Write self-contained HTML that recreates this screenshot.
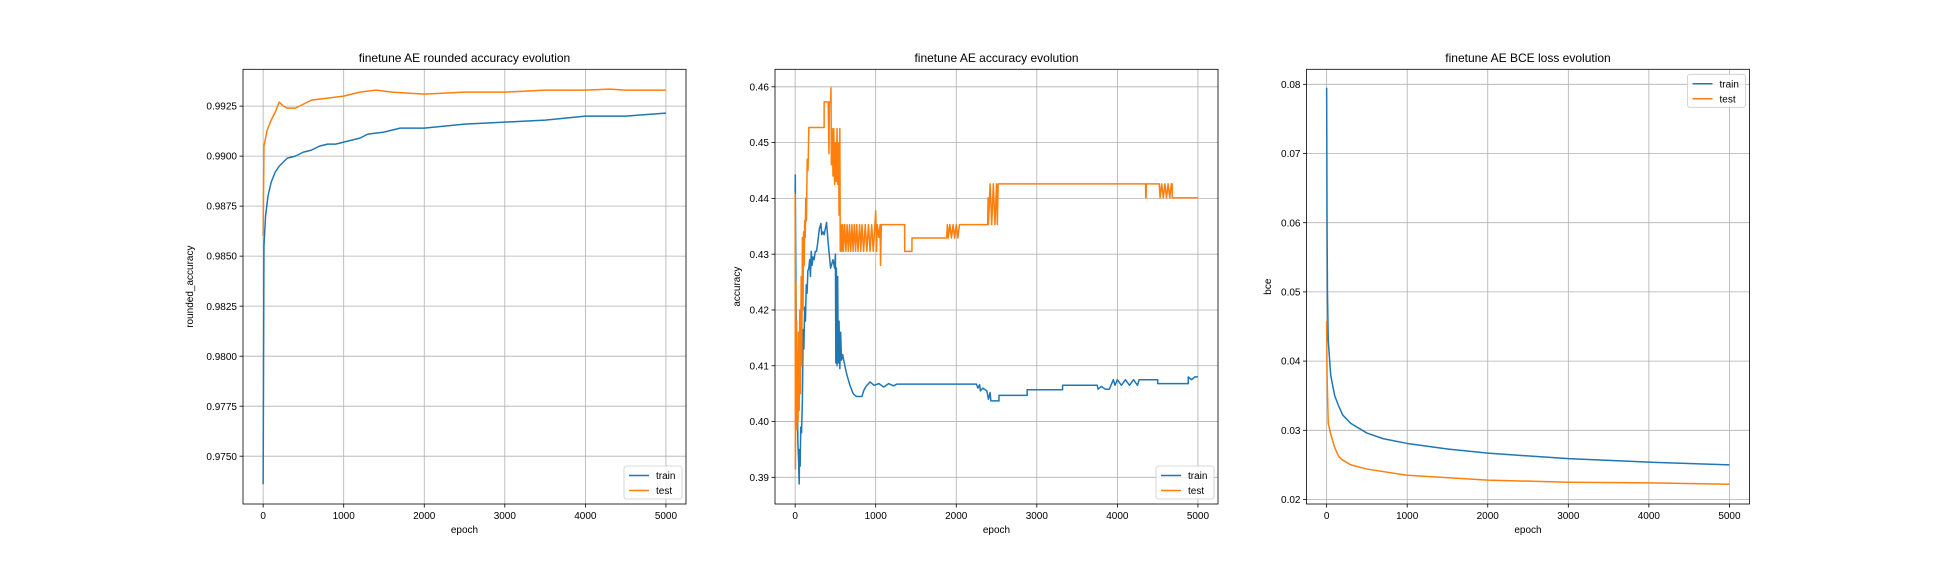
<!DOCTYPE html>
<html><head><meta charset="utf-8"><style>
html,body{margin:0;padding:0;background:#fff;}
svg{display:block;font-family:"Liberation Sans","DejaVu Sans",sans-serif;}
</style></head><body>
<svg id="fig" width="1944" height="576" viewBox="0 0 1944 576" xmlns="http://www.w3.org/2000/svg"></svg>
<script>
const xTicks = [0,1000,2000,3000,4000,5000];
// chart 1
const c1TrainE = [0,10,30,60,100,150,200,300,400,500,600,700,800,900,1000,1200,1300,1500,1700,2000,2500,3000,3500,4000,4500,5000];
const c1TrainV = [0.9736,0.9855,0.9870,0.9880,0.9887,0.9892,0.9895,0.9899,0.9900,0.9902,0.9903,0.9905,0.9906,0.9906,0.9907,0.9909,0.9911,0.9912,0.9914,0.9914,0.9916,0.9917,0.9918,0.9920,0.9920,0.99215];
const c1TestE = [0,10,50,100,150,200,250,300,400,500,600,800,1000,1100,1200,1400,1600,2000,2500,3000,3500,4000,4300,4500,5000];
const c1TestV = [0.9860,0.9905,0.9913,0.9918,0.9922,0.9927,0.9925,0.9924,0.9924,0.9926,0.9928,0.9929,0.9930,0.9931,0.9932,0.9933,0.9932,0.9931,0.9932,0.9932,0.9933,0.9933,0.99335,0.9933,0.9933];
const c1YTicks = [0.9750,0.9775,0.9800,0.9825,0.9850,0.9875,0.9900,0.9925];
// chart 2 (epoch, value) pairs
const c2Train = [[0,.4412],[2,.4442],[6,.432],[12,.420],[18,.4135],[24,.412],[34,.396],[42,.3935],[50,.3888],[56,.395],[62,.392],[70,.399],[80,.398],[90,.404],[100,.4165],[108,.413],[118,.4205],[128,.418],[138,.4245],[148,.423],[158,.427],[170,.4275],[180,.429],[190,.426],[200,.4305],[210,.428],[222,.4295],[235,.429],[250,.4305],[265,.4305],[280,.432],[300,.4345],[320,.4355],[330,.4335],[345,.434],[360,.4335],[390,.4357],[410,.432],[440,.4275],[470,.429],[490,.4275],[500,.430],[505,.4105],[512,.4275],[520,.410],[528,.426],[535,.4105],[545,.418],[555,.4095],[565,.416],[575,.411],[590,.412],[610,.4105],[640,.4085],[680,.4065],[720,.405],[760,.4045],[830,.4045],[850,.4055],[880,.4063],[930,.4071],[980,.4065],[1040,.4068],[1100,.4062],[1160,.4068],[1220,.4064],[1260,.4067],[2250,.4067],[2270,.406],[2290,.4066],[2300,.4055],[2330,.406],[2380,.4055],[2400,.404],[2420,.4052],[2430,.4037],[2530,.4037],[2530,.4047],[2880,.4047],[2880,.4057],[3320,.4057],[3320,.4065],[3750,.4065],[3760,.4058],[3800,.4063],[3850,.4058],[3900,.4058],[3950,.4075],[3970,.4065],[4000,.4075],[4050,.4065],[4100,.4075],[4150,.4065],[4200,.4075],[4250,.4065],[4270,.4075],[4500,.4075],[4500,.4068],[4880,.4068],[4880,.408],[4920,.4075],[4960,.408],[5000,.408]];
const c2Test = [[0,.4408],[4,.3915],[8,.425],[12,.400],[18,.418],[24,.3985],[30,.412],[36,.400],[42,.416],[50,.402],[58,.420],[66,.405],[75,.426],[82,.410],[90,.433],[98,.420],[105,.434],[112,.428],[118,.436],[125,.433],[132,.440],[140,.436],[150,.447],[160,.445],[170,.4527],[360,.4527],[360,.4573],[410,.4573],[420,.448],[425,.4573],[440,.4573],[445,.4598],[450,.446],[460,.4525],[470,.444],[480,.4525],[490,.4425],[500,.450],[510,.443],[520,.4525],[530,.4425],[540,.450],[545,.437],[555,.4525],[560,.4305],[570,.4353],[580,.4305],[590,.4353],[600,.4305],[615,.4353],[630,.4305],[645,.4353],[660,.4305],[675,.4353],[690,.4305],[705,.4353],[720,.4305],[735,.4353],[750,.4305],[765,.4353],[780,.4305],[800,.4353],[815,.4305],[830,.4353],[850,.4305],[870,.4353],[890,.4305],[910,.4353],[930,.4305],[950,.4353],[970,.4305],[990,.4353],[1000,.4378],[1010,.4305],[1020,.4353],[1040,.433],[1055,.4353],[1060,.428],[1070,.4353],[1360,.4353],[1360,.4305],[1450,.4305],[1450,.4329],[1880,.4329],[1890,.4353],[1900,.4329],[1920,.4353],[1940,.4329],[1960,.4353],[1980,.4329],[2000,.4353],[2020,.4329],[2040,.4353],[2390,.4353],[2395,.4401],[2400,.4353],[2420,.4426],[2440,.4353],[2460,.4426],[2480,.4353],[2500,.4426],[2510,.4353],[2520,.4426],[2530,.4426],[4350,.4426],[4352,.4401],[4356,.4401],[4360,.4426],[4520,.4426],[4530,.4401],[4550,.4426],[4570,.4401],[4590,.4426],[4610,.4401],[4630,.4426],[4650,.4401],[4670,.4426],[4680,.4426],[4680,.4401],[5000,.4401]];
const c2YTicks = [0.39,0.40,0.41,0.42,0.43,0.44,0.45,0.46];
// chart 3
const c3TrainE = [0,5,10,20,50,100,150,200,300,500,700,1000,1500,2000,3000,4000,5000];
const c3TrainV = [0.0795,0.060,0.050,0.043,0.038,0.035,0.0335,0.0322,0.031,0.0296,0.0288,0.0281,0.0273,0.0267,0.0259,0.0254,0.0250];
const c3TestE = [0,5,20,50,100,150,200,300,500,1000,2000,3000,4000,5000];
const c3TestV = [0.0458,0.038,0.031,0.0295,0.0275,0.0262,0.0257,0.0250,0.0244,0.0235,0.0228,0.0225,0.0224,0.0222];
const c3YTicks = [0.02,0.03,0.04,0.05,0.06,0.07,0.08];

const NS="http://www.w3.org/2000/svg";
const fig=document.getElementById('fig');
function mk(tag,attrs,parent){const e=document.createElementNS(NS,tag);for(const k in attrs)e.setAttribute(k,attrs[k]);(parent||fig).appendChild(e);return e;}
const TOP=69.3,BOT=504,W=443;
const BLUE="#1f77b4",ORANGE="#ff7f0e";

function chart(id,left,title,ylabel,ylabelX,ymin,ymax,yticks,dec,series,legendTop){
  const g=mk('g',{});
  
  
  const xs=v=>left+(v+250)/5499*W;
  const ys=v=>BOT-(v-ymin)/(ymax-ymin)*(BOT-TOP);
  xTicks.forEach(t=>{
    const l=mk('line',{x1:xs(t),x2:xs(t),y1:TOP,y2:BOT,stroke:'#b0b0b0','stroke-width':0.8},g);
    
    
    const tk=mk('line',{x1:xs(t),x2:xs(t),y1:BOT,y2:BOT+3.5,stroke:'#000','stroke-width':0.8},g);
    
    
    const tx=mk('text',{x:xs(t),y:BOT+15,'font-size':10,'text-anchor':'middle',fill:'#000'},g);
    tx.textContent=t;
    
    
  });
  yticks.forEach(t=>{
    const l=mk('line',{x1:left,x2:left+W,y1:ys(t),y2:ys(t),stroke:'#b0b0b0','stroke-width':0.8},g);
    
    
    const tk=mk('line',{x1:left-3.5,x2:left,y1:ys(t),y2:ys(t),stroke:'#000','stroke-width':0.8},g);
    
    
    const tx=mk('text',{x:left-6,y:ys(t)+3.6,'font-size':10,'text-anchor':'end',fill:'#000'},g);
    tx.textContent=t.toFixed(dec);
    
    
  });
  const cp=mk('clipPath',{id:id+'-clip'},g);
  mk('rect',{x:left,y:TOP,width:W,height:BOT-TOP},cp);
  series.forEach(s=>{
    const pts=s.p.map(d=>xs(d[0]).toFixed(2)+','+ys(d[1]).toFixed(2)).join(' ');
    const p=mk('polyline',{points:pts,fill:'none',stroke:s.c,'stroke-width':1.5,'stroke-linejoin':'round','clip-path':'url(#'+id+'-clip)'},g);
    
    
  });
  const fr=mk('rect',{x:left,y:TOP,width:W,height:BOT-TOP,fill:'none',stroke:'#000','stroke-width':0.8},g);
  
  
  const tt=mk('text',{x:left+W/2,y:62,'font-size':12,'text-anchor':'middle',fill:'#000'},g);
  tt.textContent=title;
  
  
  const xl=mk('text',{x:left+W/2,y:533,'font-size':10,'text-anchor':'middle',fill:'#000'},g);
  xl.textContent='epoch';
  
  
  const yl=mk('text',{x:0,y:0,'font-size':10,'text-anchor':'middle',fill:'#000',transform:'translate('+ylabelX+','+((TOP+BOT)/2)+') rotate(-90)'},g);
  yl.textContent=ylabel;
  
  
  const lx=left+W-62, ly=legendTop?TOP+5:BOT-38;
  const lg=mk('g',{},g);
  
  
  mk('rect',{x:lx,y:ly,width:58,height:33,rx:2.5,fill:'#fff','fill-opacity':0.8,stroke:'#ccc','stroke-width':0.8},lg);
  [['train',BLUE],['test',ORANGE]].forEach((it,i)=>{
    const yy=ly+9.5+i*15;
    const ln=mk('line',{x1:lx+5,x2:lx+25,y1:yy,y2:yy,stroke:it[1],'stroke-width':1.5},lg);
    
    
    const t=mk('text',{x:lx+32,y:yy+3.6,'font-size':10,fill:'#000'},lg);
    t.textContent=it[0];
    
    
  });
}
const zip=(e,v)=>e.map((x,i)=>[x,v[i]]);
chart('rounded-accuracy-chart',243,'finetune AE rounded accuracy evolution','rounded_accuracy',193,0.97261,0.99434,c1YTicks,4,
  [{p:zip(c1TrainE,c1TrainV),c:BLUE,name:'train-line'},{p:zip(c1TestE,c1TestV),c:ORANGE,name:'test-line'}],false);
chart('accuracy-chart',775,'finetune AE accuracy evolution','accuracy',740,0.38522,0.46314,c2YTicks,2,
  [{p:c2Train,c:BLUE,name:'train-line'},{p:c2Test,c:ORANGE,name:'test-line'}],false);
chart('bce-loss-chart',1306.5,'finetune AE BCE loss evolution','bce',1271,0.01935,0.08217,c3YTicks,2,
  [{p:zip(c3TrainE,c3TrainV),c:BLUE,name:'train-line'},{p:zip(c3TestE,c3TestV),c:ORANGE,name:'test-line'}],true);
</script>
</body></html>
